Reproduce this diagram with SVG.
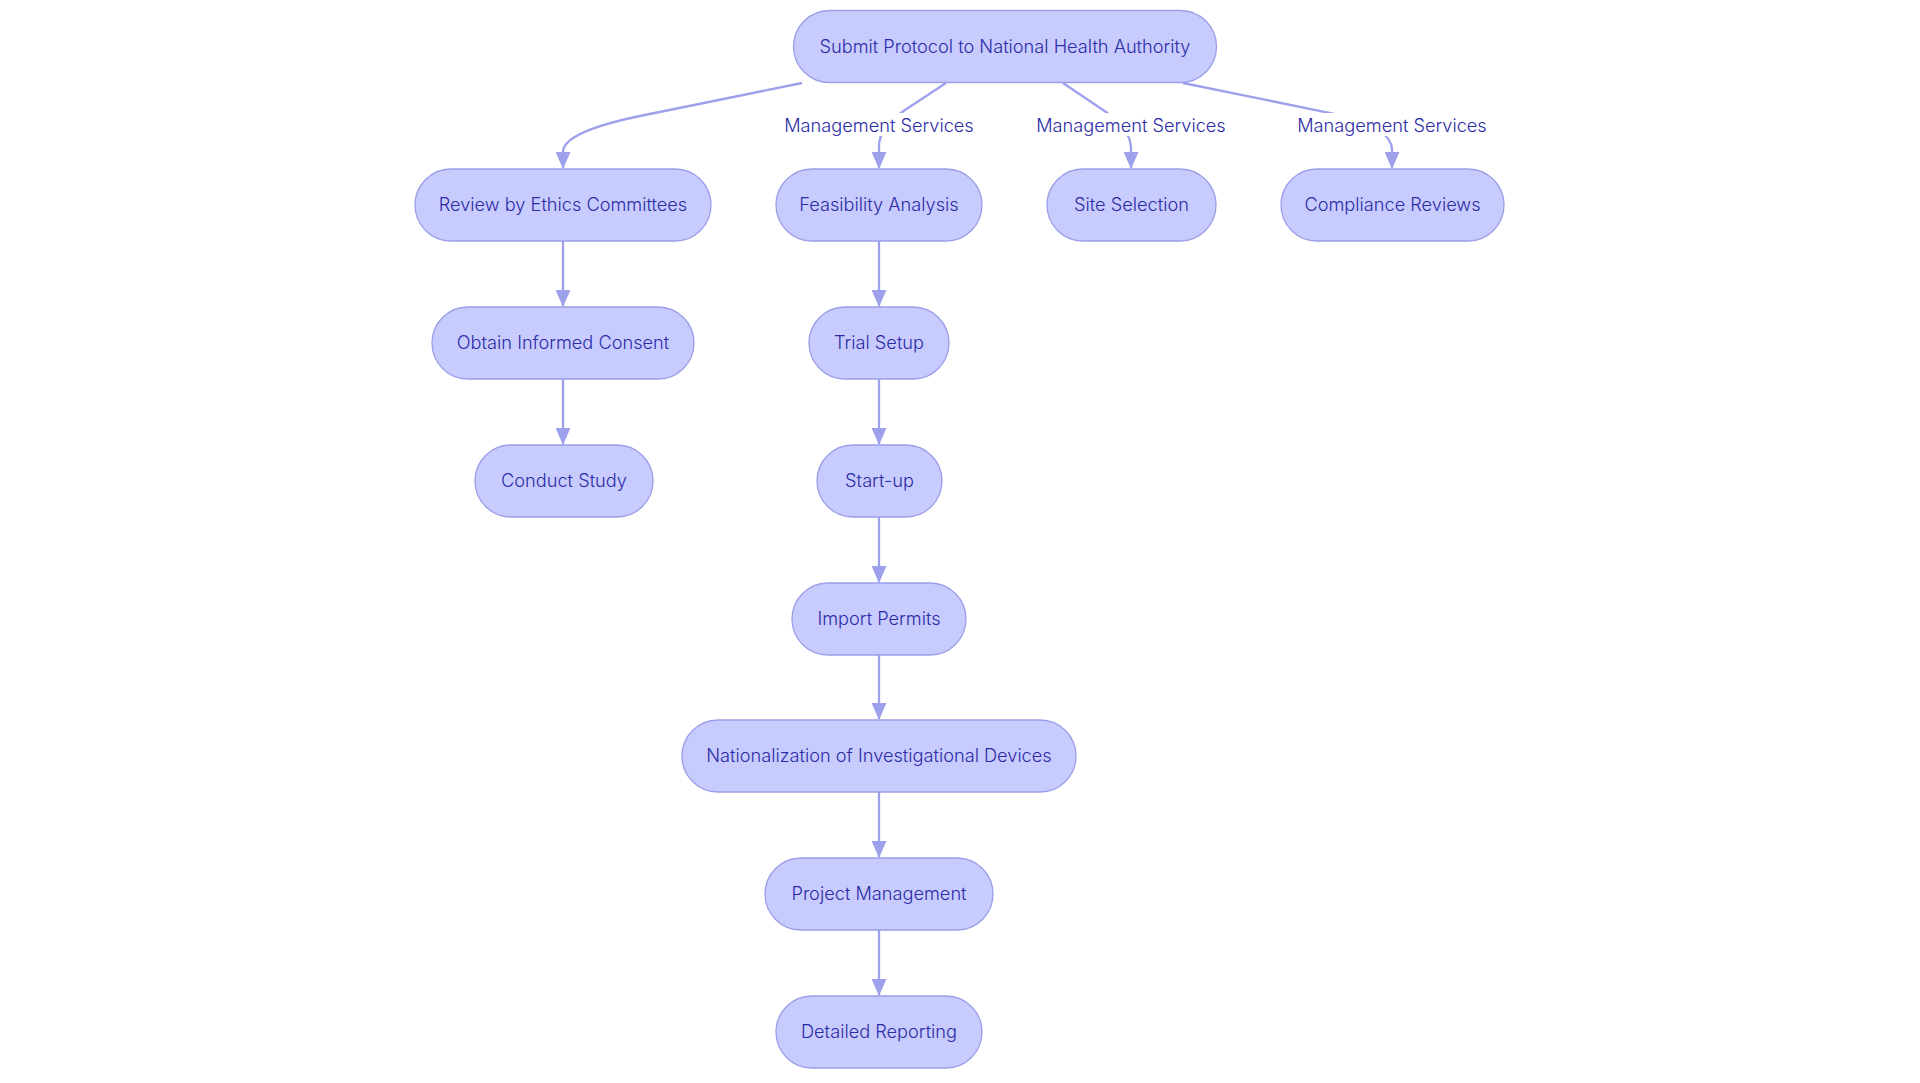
<svg xmlns="http://www.w3.org/2000/svg" width="1920" height="1083" viewBox="0 0 1920 1083">
<style>
.node rect{fill:#c8cbfd;stroke:#9b9ee8;stroke-width:1.3}
.node text,.lbl text{font-family:Inter,"Liberation Sans",sans-serif;font-size:18.2px;font-weight:350;fill:#2c2ca8;text-anchor:middle;dominant-baseline:central}
.edges path{fill:none;stroke:#9da0ea;stroke-width:2.3}
.lbl rect{fill:#ffffff}
</style>
<defs>
<marker id="arr" viewBox="0 0 16 14" refX="15" refY="7" markerWidth="17" markerHeight="15" markerUnits="userSpaceOnUse" orient="auto">
<path d="M0,0 L16,7 L0,14 z" fill="#9da0ea"/>
</marker>
</defs>
<rect width="1920" height="1083" fill="#ffffff"/>
<g class="edges">
<path d="M802,83 L640,116 Q563,132 563,152 L563,168" marker-end="url(#arr)"/>
<path d="M946,83 L905,110 Q880,127 879,145 L879,168" marker-end="url(#arr)"/>
<path d="M1063,83 L1106,112 Q1130,128 1131,148 L1131,168" marker-end="url(#arr)"/>
<path d="M1183,83 L1340,115 Q1392,128 1392,150 L1392,168" marker-end="url(#arr)"/>
<path d="M563,241 L563,306" marker-end="url(#arr)"/>
<path d="M563,379 L563,444" marker-end="url(#arr)"/>
<path d="M879,241 L879,306" marker-end="url(#arr)"/>
<path d="M879,379 L879,444" marker-end="url(#arr)"/>
<path d="M879,517 L879,582" marker-end="url(#arr)"/>
<path d="M879,655 L879,719" marker-end="url(#arr)"/>
<path d="M879,792 L879,857" marker-end="url(#arr)"/>
<path d="M879,930 L879,995" marker-end="url(#arr)"/>
</g>
<g class="lbl" id="lbl1"><rect x="782" y="113" width="194" height="23"/><text x="879" y="124.5">Management Services</text></g>
<g class="lbl" id="lbl2"><rect x="1034" y="113" width="194" height="23"/><text x="1131" y="124.5">Management Services</text></g>
<g class="lbl" id="lbl3"><rect x="1295" y="113" width="194" height="23"/><text x="1392" y="124.5">Management Services</text></g>
<g class="node" id="n_submit"><rect x="793.5" y="10.5" width="423" height="72" rx="36"/><text x="1005" y="45.5">Submit Protocol to National Health Authority</text></g>
<g class="node" id="n_review"><rect x="415" y="169" width="296" height="72" rx="36"/><text x="563" y="204">Review by Ethics Committees</text></g>
<g class="node" id="n_feas"><rect x="776" y="169" width="206" height="72" rx="36"/><text x="879" y="204">Feasibility Analysis</text></g>
<g class="node" id="n_site"><rect x="1047" y="169" width="169" height="72" rx="36"/><text x="1131.5" y="204">Site Selection</text></g>
<g class="node" id="n_comp"><rect x="1281" y="169" width="223" height="72" rx="36"/><text x="1392.5" y="204">Compliance Reviews</text></g>
<g class="node" id="n_consent"><rect x="432" y="307" width="262" height="72" rx="36"/><text x="563" y="342">Obtain Informed Consent</text></g>
<g class="node" id="n_trial"><rect x="809" y="307" width="140" height="72" rx="36"/><text x="879" y="342">Trial Setup</text></g>
<g class="node" id="n_conduct"><rect x="475" y="445" width="178" height="72" rx="36"/><text x="564" y="480">Conduct Study</text></g>
<g class="node" id="n_start"><rect x="817" y="445" width="125" height="72" rx="36"/><text x="879.5" y="480">Start-up</text></g>
<g class="node" id="n_import"><rect x="792" y="583" width="174" height="72" rx="36"/><text x="879" y="618">Import Permits</text></g>
<g class="node" id="n_nat"><rect x="682" y="720" width="394" height="72" rx="36"/><text x="879" y="755">Nationalization of Investigational Devices</text></g>
<g class="node" id="n_pm"><rect x="765" y="858" width="228" height="72" rx="36"/><text x="879" y="893">Project Management</text></g>
<g class="node" id="n_report"><rect x="776" y="996" width="206" height="72" rx="36"/><text x="879" y="1031">Detailed Reporting</text></g>
</svg>
